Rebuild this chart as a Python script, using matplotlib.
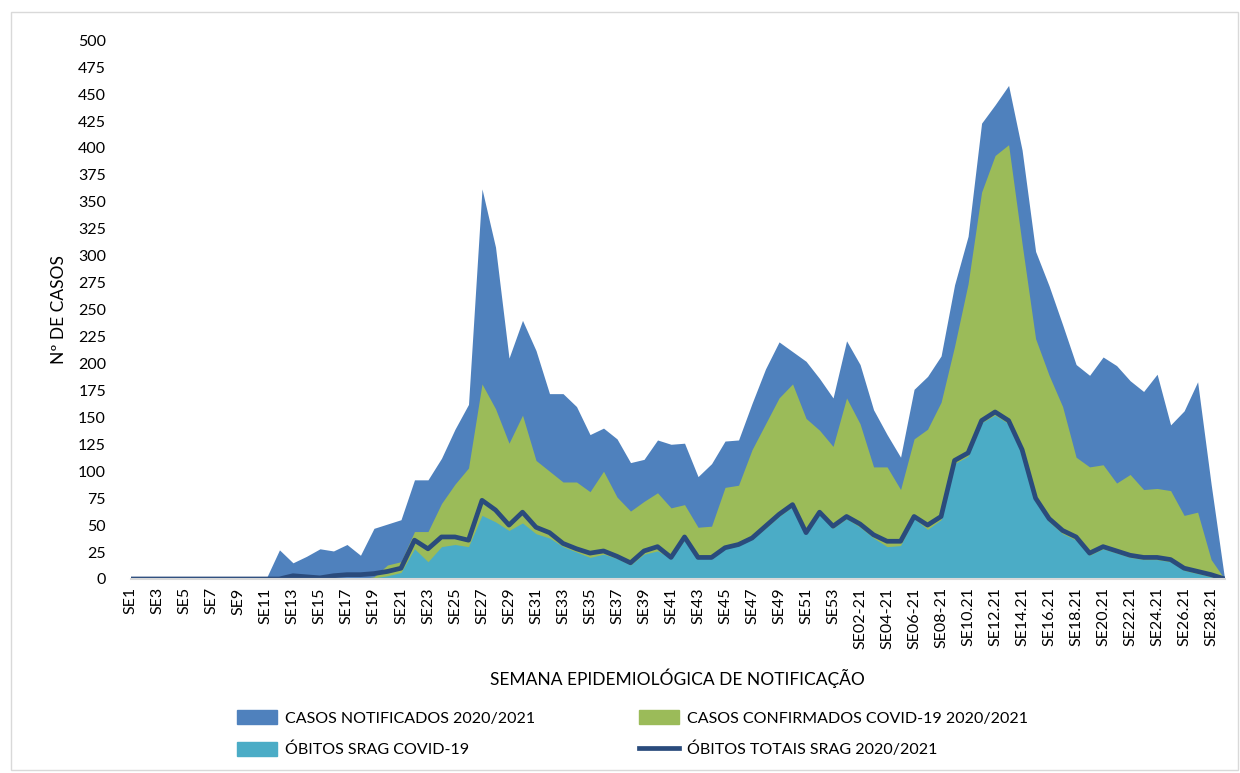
import numpy as np
import matplotlib.pyplot as plt
from matplotlib.patches import Patch, Rectangle
from matplotlib.lines import Line2D

plt.rcParams['font.family'] = ['Lato', 'DejaVu Sans']

# semanas epidemiologicas 2020 (SE1..SE53) e 2021 (SE01-21..SE29.21)
weeks = ['SE%d' % i for i in range(1, 54)]
weeks += ['SE%02d-21' % i for i in range(1, 10)]
weeks += ['SE%d.21' % i for i in range(10, 30)]

notificados = [0, 0, 0, 0, 0, 0, 0, 0, 0, 2, 0, 27, 15, 21, 28, 26, 32, 22, 47, 51,
               55, 92, 92, 112, 139, 162, 362, 308, 205, 240, 212, 172, 172, 160, 134, 140, 130, 108, 111, 129,
               125, 126, 95, 107, 128, 129, 163, 195, 220, 211, 202, 186, 168, 221, 199, 157, 134, 113, 176, 188,
               207, 273, 318, 423, 440, 458, 398, 304, 272, 236, 199, 189, 206, 198, 184, 174, 190, 143, 156, 183,
               88, 0]
confirmados = [0, 0, 0, 0, 0, 0, 0, 0, 0, 0, 0, 0, 0, 0, 0, 0, 0, 0, 2, 13,
               16, 44, 44, 70, 88, 103, 181, 158, 126, 152, 110, 100, 90, 90, 81, 100, 76, 63, 72, 80,
               66, 69, 48, 49, 85, 87, 120, 144, 168, 181, 149, 138, 123, 168, 144, 104, 104, 83, 130, 139,
               164, 216, 274, 359, 393, 403, 311, 223, 189, 160, 113, 104, 106, 89, 97, 83, 84, 82, 59, 62,
               18, 0]
obitos_covid = [0, 0, 0, 0, 0, 0, 0, 0, 0, 0, 0, 0, 0, 0, 0, 0, 0, 0, 1, 3,
                6, 28, 16, 30, 32, 30, 59, 53, 45, 52, 42, 38, 30, 25, 20, 23, 19, 13, 23, 26,
                19, 36, 19, 19, 28, 31, 37, 47, 58, 67, 42, 60, 47, 56, 48, 38, 30, 31, 56, 46,
                55, 107, 114, 145, 152, 144, 117, 72, 53, 42, 36, 22, 28, 24, 20, 18, 18, 16, 8, 5,
                2, 0]
obitos_totais = [0, 0, 0, 0, 0, 0, 0, 0, 0, 0, 0, 0, 3, 2, 1, 3, 4, 4, 5, 7,
                 10, 36, 28, 39, 39, 36, 73, 64, 50, 62, 48, 43, 33, 28, 24, 26, 21, 15, 26, 30,
                 20, 39, 20, 20, 29, 32, 38, 49, 60, 69, 43, 62, 49, 58, 51, 41, 35, 35, 58, 50,
                 58, 110, 117, 147, 155, 147, 120, 75, 56, 45, 39, 24, 30, 26, 22, 20, 20, 18, 10, 7,
                 4, 0]

c_blue = '#4F81BD'
c_green = '#9BBB59'
c_teal = '#4BACC6'
c_line = '#2A4B7C'

fig = plt.figure(figsize=(12.4, 7.73), dpi=100)
ax = fig.add_axes([0.1056, 0.251, 0.882, 0.697])
x = np.arange(len(weeks))

ax.fill_between(x, notificados, color=c_blue, lw=0)
ax.fill_between(x, confirmados, color=c_green, lw=0)
ax.fill_between(x, obitos_covid, color=c_teal, lw=0)
ax.plot(x, obitos_totais, color=c_line, lw=3.4, solid_joinstyle='round')

ax.set_xlim(0, len(weeks) - 1)
ax.set_ylim(0, 500)
ax.set_yticks(range(0, 501, 25))
ax.set_xticks(x[::2])
ax.set_xticklabels(weeks[::2], rotation=90, fontsize=11.5)
ax.tick_params(axis='y', length=0, labelsize=11.5, pad=18)
ax.tick_params(axis='x', length=0, pad=6)
for s in ['top', 'right', 'left']:
    ax.spines[s].set_visible(False)
ax.spines['bottom'].set_color('#D9D9D9')
ax.spines['bottom'].set_linewidth(1.5)

ax.set_ylabel('Nº DE CASOS', fontsize=12.5, labelpad=8)
ax.set_xlabel('SEMANA EPIDEMIOLÓGICA DE NOTIFICAÇÃO', fontsize=12.5, labelpad=14)

handles = [Patch(color=c_blue), Patch(color=c_teal), Patch(color=c_green),
           Line2D([0], [0], color=c_line, lw=3.4)]
labels = ['CASOS NOTIFICADOS 2020/2021', 'ÓBITOS SRAG COVID-19',
          'CASOS CONFIRMADOS COVID-19 2020/2021', 'ÓBITOS TOTAIS SRAG 2020/2021']
fig.legend(handles, labels, ncol=2, loc='center', bbox_to_anchor=(0.51, 0.051),
           frameon=False, fontsize=11.5, handlelength=2.5, handleheight=1.0,
           columnspacing=6.5, labelspacing=1.0, handletextpad=0.5)

fig.patches.append(Rectangle((0.009, 0.004), 0.989, 0.98, transform=fig.transFigure,
                             fill=False, edgecolor='#D9D9D9', lw=1))

fig.savefig('out.png', dpi=100)
